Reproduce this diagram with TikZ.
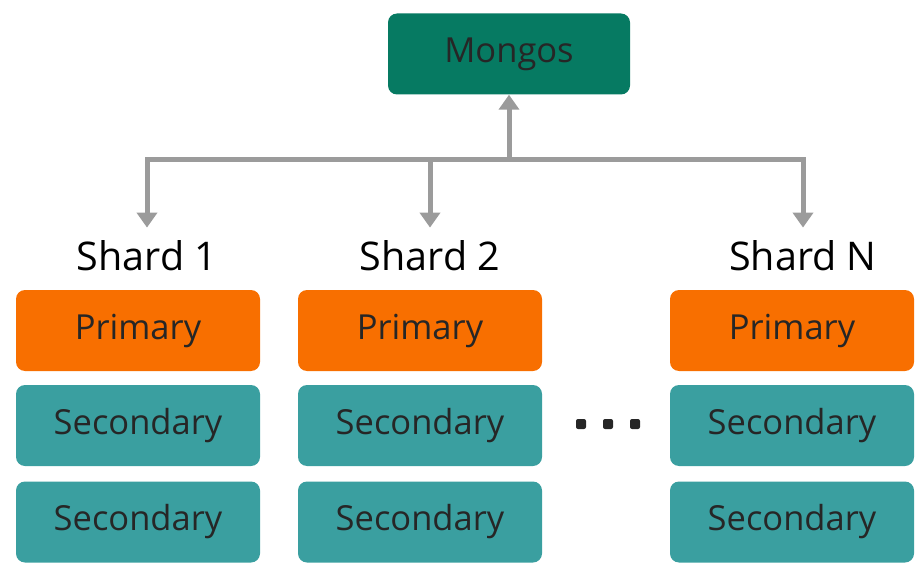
\documentclass[tikz,border=0pt]{standalone}
\usepackage{fontspec}
\setmainfont{Open Sans}
\usetikzlibrary{arrows.meta}
\definecolor{mongogreen}{HTML}{067A62}
\definecolor{primorange}{HTML}{F86F00}
\definecolor{secteal}{HTML}{3A9FA0}
\definecolor{linkgray}{HTML}{9B9B9B}
\definecolor{textdark}{HTML}{262626}
\tikzstyle{rblock} = [rounded corners=9pt, minimum width=244pt, minimum height=81pt,
    inner sep=0pt, text=textdark, font=\fontsize{34.5}{34.5}\selectfont]
\tikzstyle{slabel} = [inner sep=0pt, text=black, font=\fontsize{39.5}{39.5}\selectfont]
\tikzstyle{link} = [draw=linkgray, line width=5pt, -{Triangle[width=20pt,length=15pt]}]
\newcommand{\shardcol}[4]{
	\node(#1lbl) at (#3,256) [slabel] {#4};
	\node(#1p) at (#2,330.5) [rblock, fill=primorange] {Primary};
	\node(#1s1) at (#2,425.5) [rblock, fill=secteal] {Secondary};
	\node(#1s2) at (#2,522) [rblock, fill=secteal] {Secondary};
}

\begin{document}
\begin{tikzpicture}[x=1pt,y=-1pt]
	\useasboundingbox (0,0) rectangle (921,580);
	\node(mongos) at (509,54) [rblock, minimum width=242pt, fill=mongogreen] {Mongos};
	
	\shardcol{shardA}{138}{147}{Shard 1}
	\shardcol{shardB}{420}{430}{Shard 2}
	\shardcol{shardN}{792}{803}{Shard N}
	
	\coordinate(hub) at (509,160);
	\draw[link] (hub) -- (mongos);
	\draw[link] (hub) -| ([yshift=13pt]shardAlbl.north);
	\draw[link] (hub) -| ([yshift=13pt]shardBlbl.north);
	\draw[link] (hub) -| ([yshift=13pt]shardNlbl.north);
	
	\foreach \i in {0,1,2}
		\node(dot\i) at (581+27*\i,424) [fill=textdark, rounded corners=2pt, minimum size=10pt, inner sep=0pt] {};
\end{tikzpicture}
\end{document}
